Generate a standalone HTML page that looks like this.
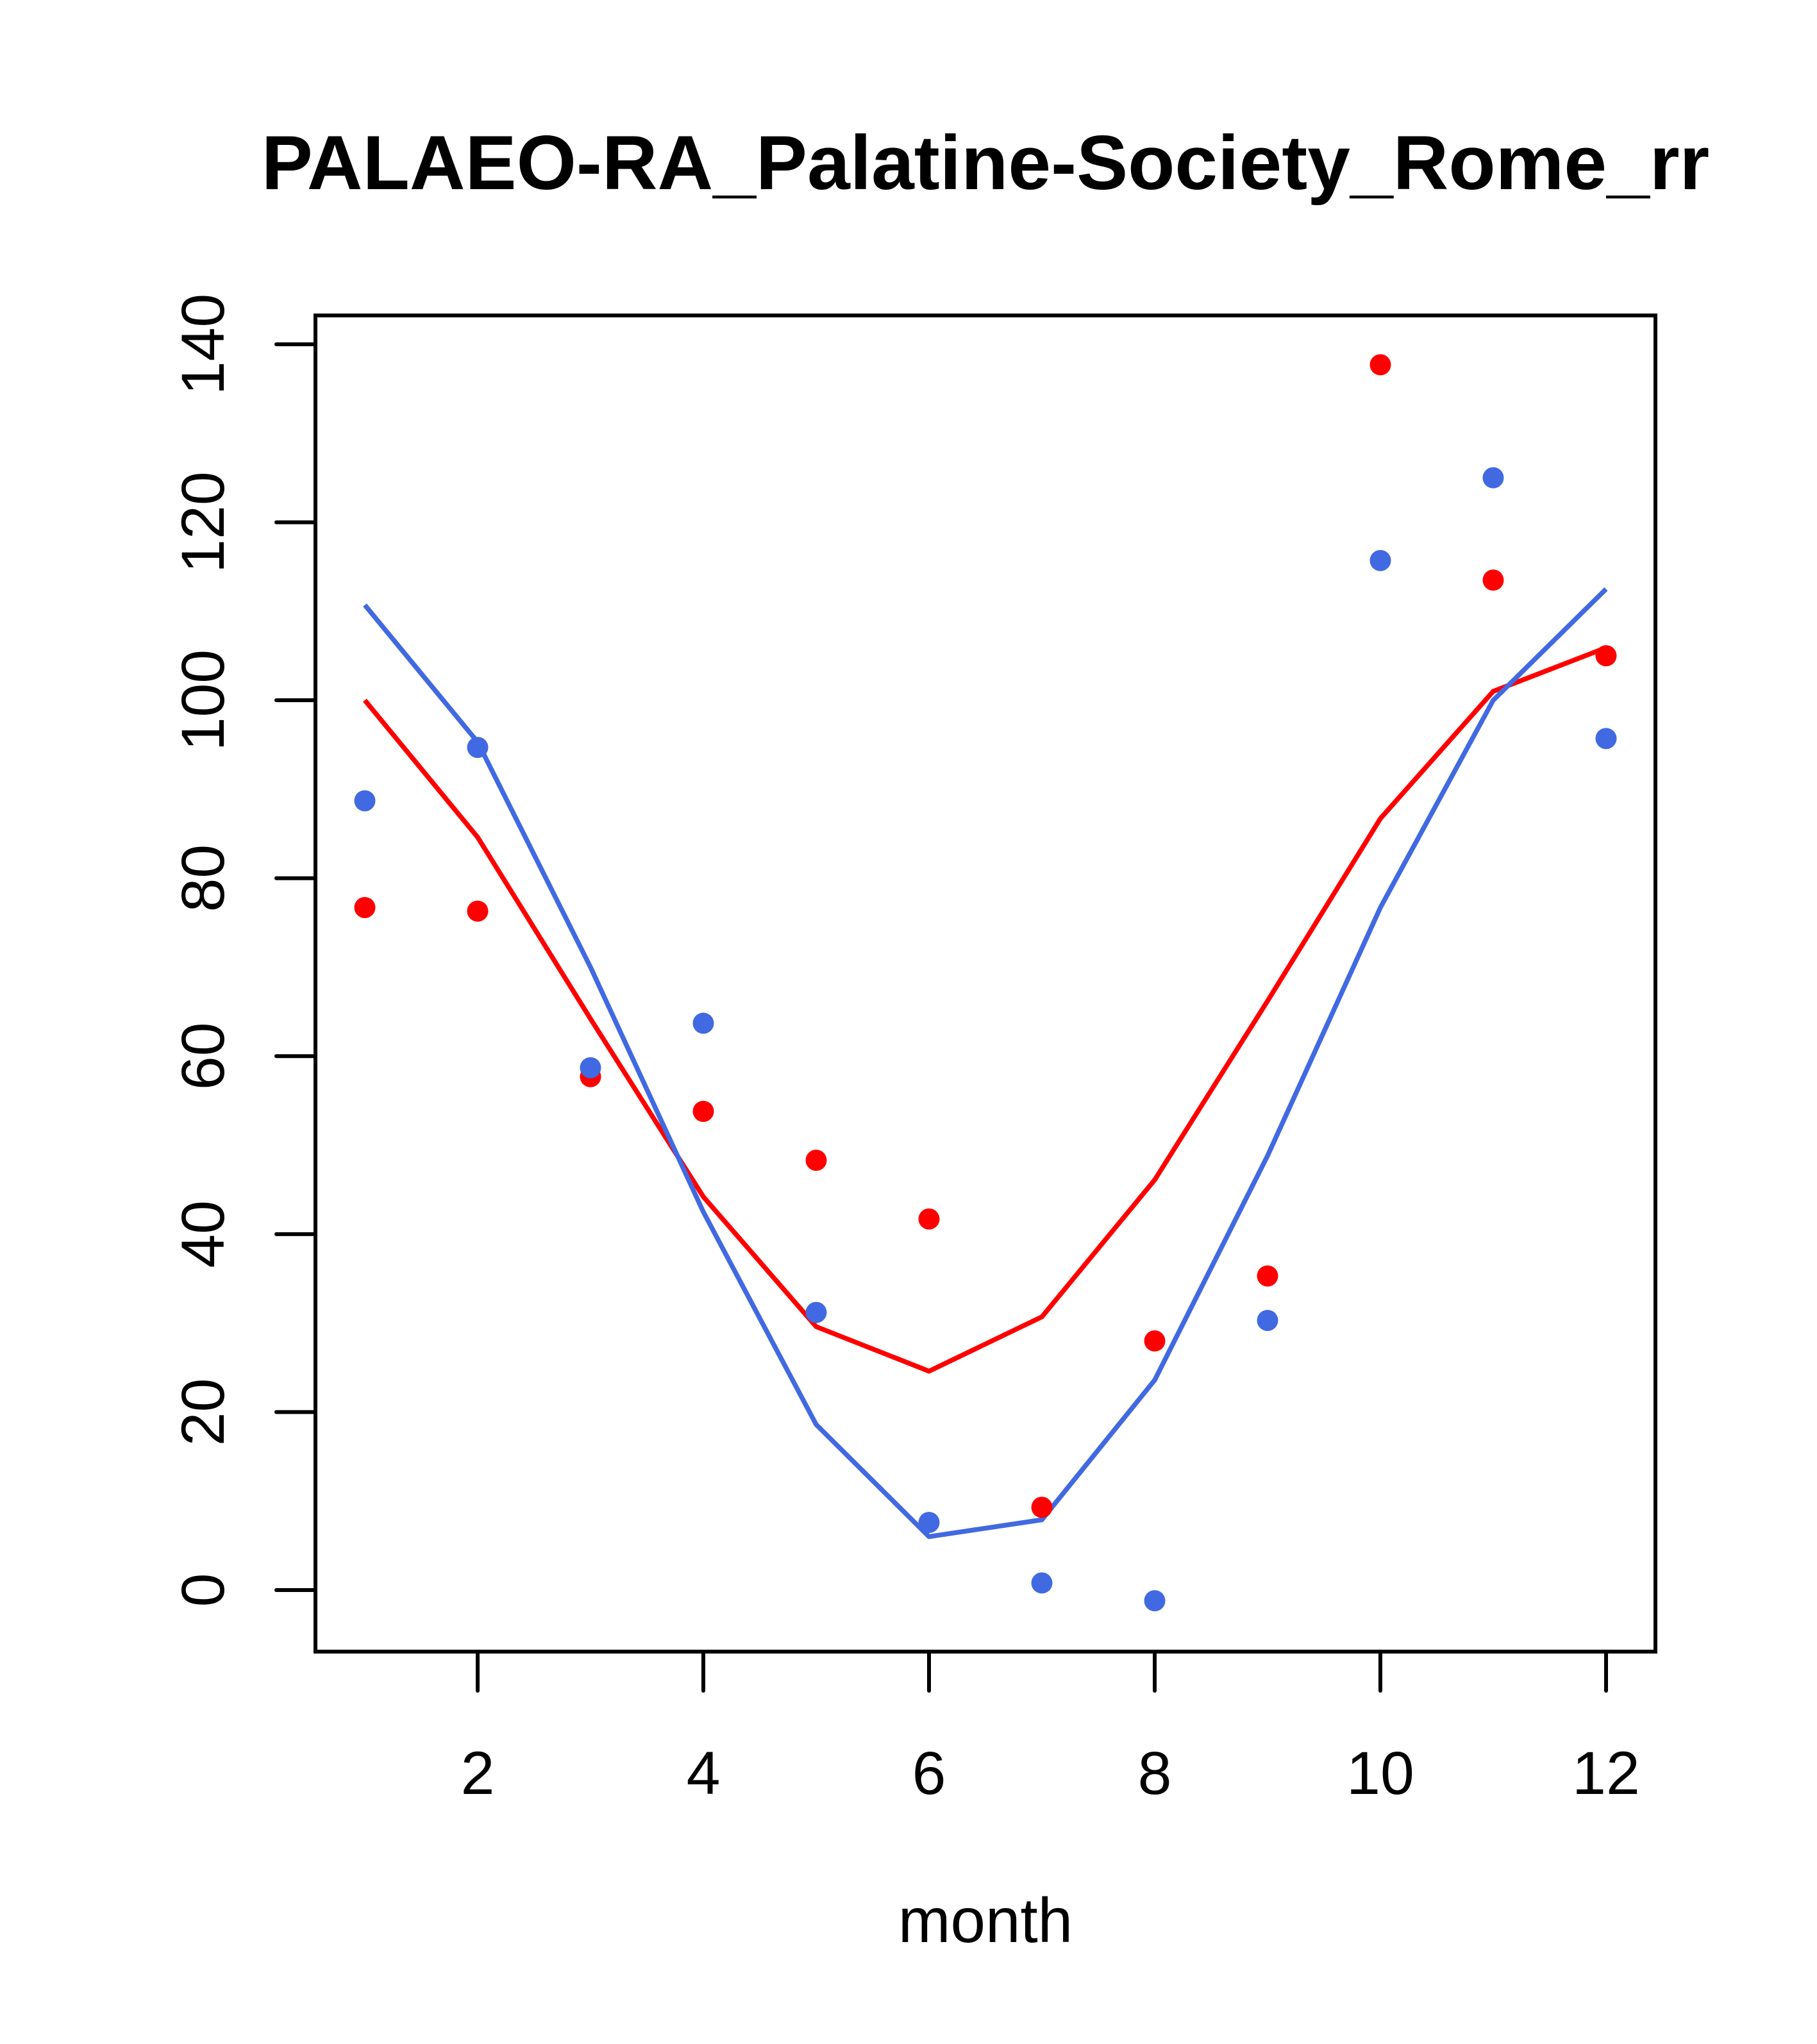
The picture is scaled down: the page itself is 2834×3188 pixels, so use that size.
<!DOCTYPE html>
<html><head><meta charset="utf-8"><style>html,body{margin:0;padding:0;background:#fff}svg{display:block}</style></head>
<body>
<svg id="chart" width="2834" height="3188" viewBox="0 0 2834 3188" xmlns="http://www.w3.org/2000/svg" font-family="Liberation Sans, Arial, sans-serif">
<rect width="2834" height="3188" fill="#fff"/>
<text x="1537" y="295" font-size="120" font-weight="bold" text-anchor="middle">PALAEO-RA_Palatine-Society_Rome_rr</text>
<text x="1537" y="3029" font-size="98" text-anchor="middle">month</text>
<rect x="492" y="492" width="2090" height="2084" fill="none" stroke="#000" stroke-width="6"/>
<g id="axes"></g>
<g id="marks"></g>
</svg>
<script>
const months = [1,2,3,4,5,6,7,8,9,10,11,12];
const redPoints = [76.7,76.3,57.7,53.8,48.3,41.7,9.3,28.0,35.3,137.7,113.5,105.0];
const bluePoints = [88.7,94.7,58.7,63.7,31.2,7.6,0.8,-1.2,30.3,115.7,125.0,95.7];
const redLine = [100,84.6,64.2,44.2,29.6,24.6,30.7,46.1,66.2,86.7,101,105.9];
const blueLine = [110.7,95.3,70.0,42.5,18.6,6.0,7.9,23.6,48.8,76.7,100,112.5];
const xTicks = [2,4,6,8,10,12];
const yTicks = [0,20,40,60,80,100,120,140];

const NS = 'http://www.w3.org/2000/svg';
function xs(m){ return 569 + (m-1)*(2505-569)/11; }
function ys(v){ return 2480 - v*(2480-537)/140; }
function mk(tag, attrs, parent){
  const e = document.createElementNS(NS, tag);
  for (const k in attrs) e.setAttribute(k, attrs[k]);
  parent.appendChild(e); return e;
}
const axes = document.getElementById('axes');
const marks = document.getElementById('marks');

xTicks.forEach(t => {
  const l = mk('line', {x1:xs(t), x2:xs(t), y1:2576, y2:2637, stroke:'#000', 'stroke-width':6, 'stroke-linecap':'round'}, axes);
  
  
  const tx = mk('text', {x:xs(t), y:2798, 'font-size':95, 'text-anchor':'middle'}, axes);
  tx.textContent = t;
  
  
});
yTicks.forEach(t => {
  const l = mk('line', {x1:431, x2:492, y1:ys(t), y2:ys(t), stroke:'#000', 'stroke-width':6, 'stroke-linecap':'round'}, axes);
  
  
  const tx = mk('text', {x:0, y:0, 'font-size':95, 'text-anchor':'middle', transform:'translate(349,' + ys(t) + ') rotate(-90)'}, axes);
  tx.textContent = t;
  
  
});

function line(vals, color, name){
  const p = mk('polyline', {points: vals.map((v,i)=>xs(months[i])+','+ys(v)).join(' '), fill:'none', stroke:color, 'stroke-width':7.5, 'stroke-linejoin':'round'}, marks);
  
  
}
function pts(vals, color, name){
  vals.forEach((v,i) => {
    const c = mk('circle', {cx:xs(months[i]), cy:ys(v), r:16.5, fill:color}, marks);
    
    
  });
}
line(redLine, '#ff0000', 'red-line');
line(blueLine, '#4169e1', 'blue-line');
pts(redPoints, '#ff0000', 'red-point');
pts(bluePoints, '#4169e1', 'blue-point');
</script>
</body></html>
